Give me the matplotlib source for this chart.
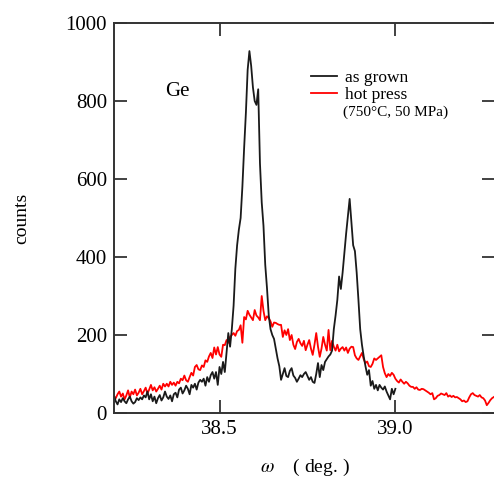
import numpy as np
import matplotlib.pyplot as plt

plt.rcParams['font.family'] = ['Liberation Serif', 'DejaVu Serif']
plt.rcParams['mathtext.fontset'] = 'stix'

# scan grid (deg), same step for both scans
scan_start = 38.200
scan_step = 0.005

# as grown, 38.200 .. 39.000
as_grown = [
    45, 30, 22, 35, 28, 38, 30, 25, 35, 42,
    30, 24, 28, 38, 33, 40, 35, 45, 40, 55,
    35, 48, 30, 42, 25, 38, 46, 32, 40, 55,
    42, 36, 45, 30, 48, 52, 40, 60, 65, 50,
    58, 70, 62, 48, 72, 65, 75, 60, 78, 85,
    80, 88, 70, 92, 80, 97, 105, 88, 105, 72,
    118, 100, 131, 105, 154, 205, 170, 215, 275, 370,
    430, 470, 500, 580, 680, 770, 880, 928, 890, 835,
    800, 790, 830, 640, 540, 480, 380, 320, 250, 215,
    200, 190, 165, 140, 120, 85, 100, 115, 95, 92,
    108, 115, 96, 90, 80, 88, 97, 92, 100, 105,
    95, 85, 92, 80, 77, 100, 128, 92, 123, 110,
    131, 138, 145, 150, 160, 215, 250, 290, 350, 318,
    360, 410, 460, 505, 549, 490, 430, 415, 360, 290,
    215, 175, 145, 120, 98, 110, 70, 82, 62, 72,
    58, 72, 65, 60, 68, 55, 45, 35, 62, 48, 62,
]

# hot press (750C, 50 MPa), 38.200 .. 39.280
hot_press = [
    42, 38, 48, 55, 42, 50, 35, 45, 58, 40,
    55, 48, 60, 45, 52, 62, 48, 56, 65, 50,
    60, 72, 58, 66, 55, 62, 70, 60, 75, 68,
    75, 68, 80, 72, 78, 70, 80, 76, 88, 84,
    96, 84, 80, 92, 103, 96, 118, 123, 112, 110,
    122, 118, 135, 131, 145, 154, 141, 168, 150, 169,
    150, 144, 175, 174, 187, 180, 195, 200, 205, 198,
    210, 213, 225, 180, 246, 240, 262, 252, 245, 238,
    264, 250, 245, 238, 300, 262, 238, 248, 243, 235,
    221, 232, 231, 228, 226, 226, 195, 212, 200, 215,
    187, 200, 175, 164, 182, 190, 179, 172, 185, 161,
    175, 187, 165, 149, 175, 205, 170, 144, 165, 195,
    175, 160, 213, 161, 185, 170, 160, 175, 158, 165,
    169, 160, 168, 154, 165, 170, 169, 148, 140, 136,
    145, 154, 138, 128, 132, 120, 118, 126, 140, 136,
    140, 144, 148, 118, 102, 92, 100, 95, 103, 98,
    88, 82, 78, 86, 80, 75, 80, 76, 70, 67,
    67, 62, 66, 60, 59, 62, 61, 58, 55, 52,
    48, 51, 35, 38, 44, 46, 50, 48, 46, 51,
    42, 45, 41, 44, 40, 41, 38, 35, 30, 32,
    28, 30, 40, 48, 51, 46, 44, 42, 46, 40,
    38, 32, 20, 26, 33, 38, 41,
]

x_ag = scan_start + scan_step * np.arange(len(as_grown))
x_hp = scan_start + scan_step * np.arange(len(hot_press))

fig = plt.figure(figsize=(4.94, 4.8), dpi=100)
ax = fig.add_axes([0.2308, 0.1396, 0.771, 0.8125])

ax.plot(x_hp, hot_press, color='red', lw=1.3, label='hot press')
ax.plot(x_ag, as_grown, color='#1a1a1a', lw=1.3, label='as grown')

ax.set_xlim(38.2, 39.283)
ax.set_ylim(0, 1000)
ax.set_xticks([38.5, 39.0])
ax.set_xticklabels(['38.5', '39.0'])
ax.set_yticks([0, 200, 400, 600, 800, 1000])

for s in ax.spines.values():
    s.set_linewidth(1.4)
    s.set_color('#333333')
ax.tick_params(direction='in', length=9.5, width=1.3, color='#333333',
               top=True, right=True, labelsize=15, pad=5)

ax.set_ylabel('counts', fontsize=14)
ax.yaxis.set_label_coords(-0.22, 0.5)
ax.set_xlabel(r'$\omega$    ( deg. )', fontsize=14)
ax.xaxis.set_label_coords(0.5, -0.113)

ax.text(0.166, 0.825, 'Ge', transform=ax.transAxes, fontsize=15,
        ha='center', va='center')

# legend: as grown first
h, l = ax.get_legend_handles_labels()
leg = ax.legend(h[::-1], l[::-1], loc='upper left', bbox_to_anchor=(0.518, 0.879),
                frameon=False, fontsize=12.5, handlelength=1.5,
                handletextpad=0.45, labelspacing=0.05, borderpad=0,
                borderaxespad=0)
ax.text(0.6, 0.772, '(750°C, 50 MPa)', transform=ax.transAxes, fontsize=11,
        ha='left', va='center')

plt.savefig('out.png', dpi=100)
